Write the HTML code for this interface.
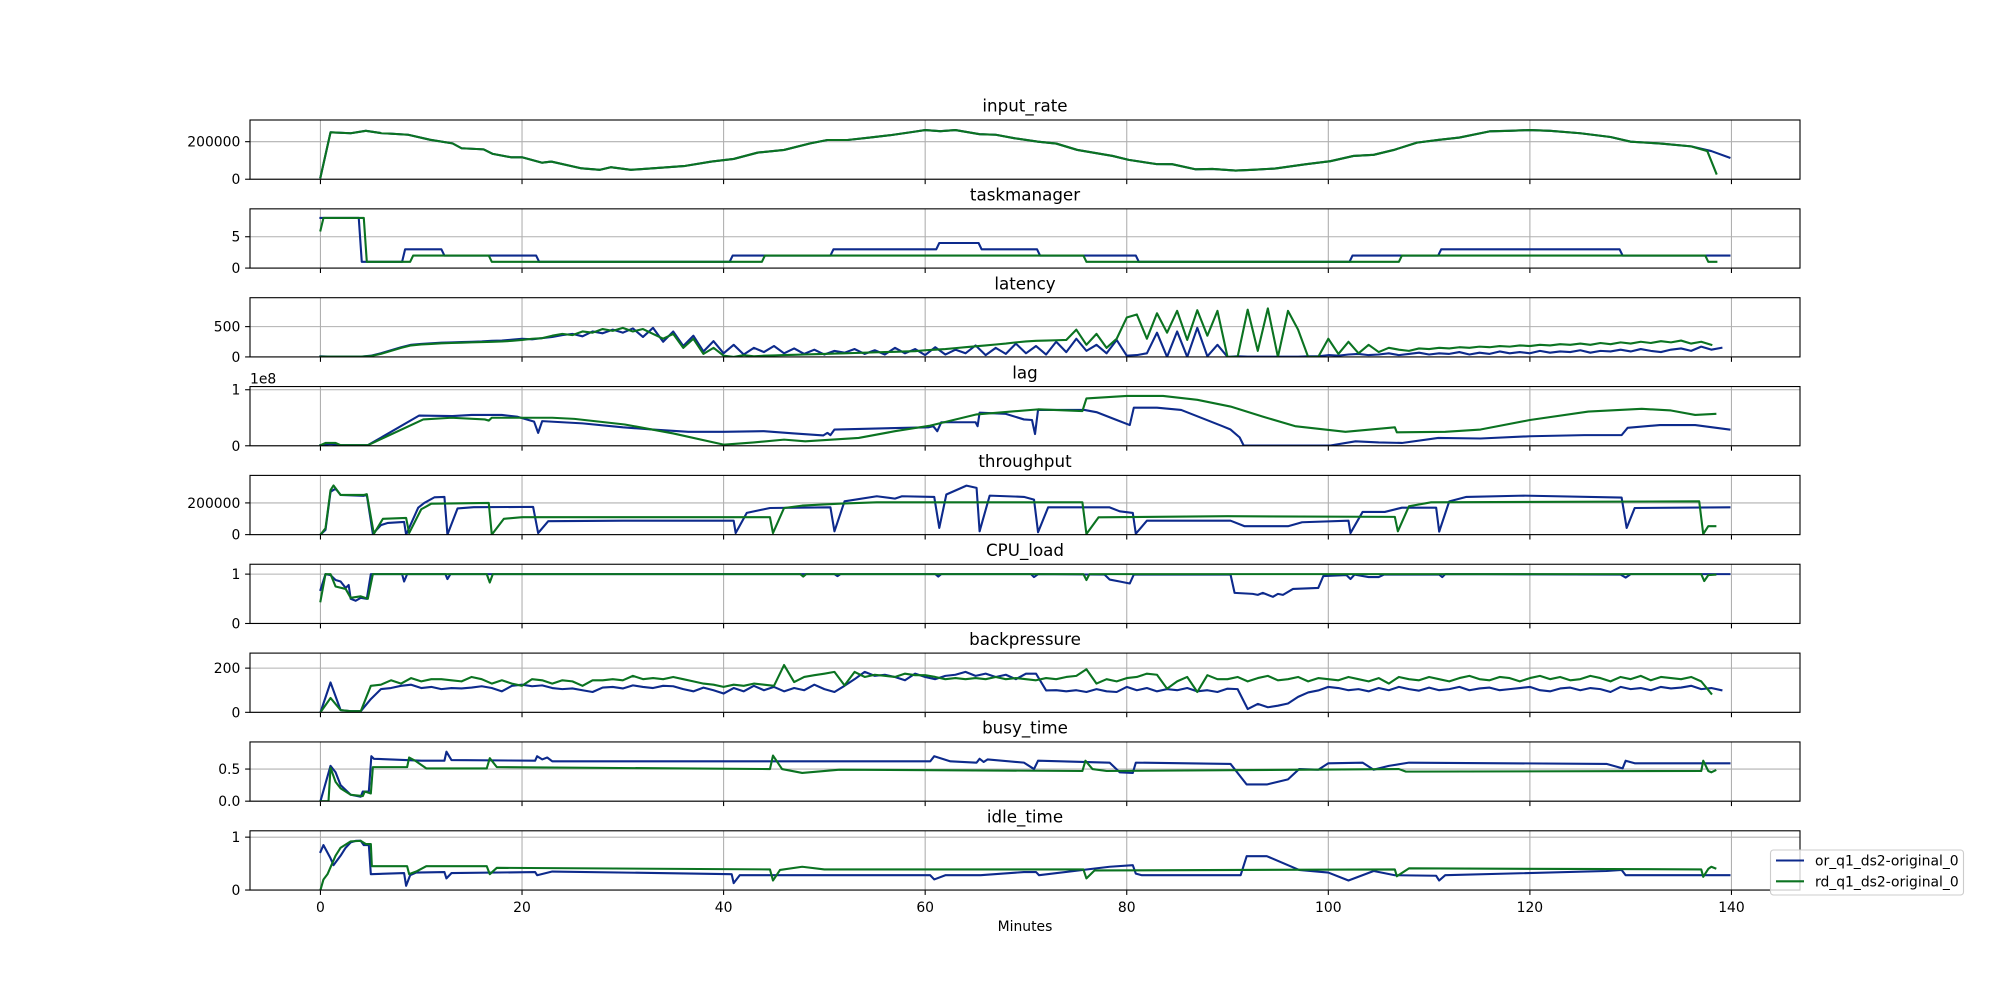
<!DOCTYPE html>
<html><head><meta charset="utf-8"><style>
html,body{margin:0;padding:0;background:#fff;}
svg{display:block;font-family:"DejaVu Sans","Liberation Sans",sans-serif;}
</style></head><body>
<svg id="fig" width="2000" height="1000" viewBox="0 0 2000 1000" xmlns="http://www.w3.org/2000/svg">
<rect x="0" y="0" width="2000" height="1000" fill="#fff"/>
</svg>
<script>
// ---- data ----
const titles=['input_rate','taskmanager','latency','lag','throughput','CPU_load','backpressure','busy_time','idle_time'];
const yTickVals=[[0,200000],[0,5],[0,500],[0,1e8],[0,200000],[0,1],[0,200],[0,0.5],[0,1]];
const yTickLabels=[['0','200000'],['0','5'],['0','500'],['0','1'],['0','200000'],['0','1'],['0','200'],['0.0','0.5'],['0','1']];
const yMaxes=[315500,9.45,977,1.057e8,373500,1.2,268,0.922,1.12];
const xTicks=[0,20,40,60,80,100,120,140];
const xTickLabels=['0','20','40','60','80','100','120','140'];
const units=[1000,1,1,1e7,1000,1,1,1,1];
const seriesNames=['or_q1_ds2-original_0','rd_q1_ds2-original_0'];

const irOr=[[0,10],[1,250],[3,245],[4.5,258],[6,246],[8.7,237],[10.9,210],[13.1,191],[14,165],[16.2,159],[17.1,135],[18.9,117],[20,117],[22,88],[22.9,94],[25.9,58],[27.7,50],[28.8,64],[30.8,50],[34,62],[36.2,71],[38.8,94],[41,108],[43.4,142],[46,156],[48.6,191],[50.3,209],[52.3,209],[54.5,222],[56.6,235],[58.9,253],[60,262],[61.5,256],[63,262],[65.4,240],[67,237],[68.9,218],[71.2,200],[73,190],[75.1,156],[78.6,124],[80.2,103],[82.9,81],[84.5,80],[86.8,53],[88.5,55],[90.8,46],[92.5,50],[94.7,57],[97.8,80],[100.2,96],[102.5,124],[104.5,130],[106.5,156],[108.8,195],[111,210],[113,222],[116,255],[118,258],[120,262],[122,258],[125,245],[128,225],[130,200],[133,190],[136,175],[138,150],[139.8,115]];
const irRd=[[0,10],[1,250],[3,245],[4.5,258],[6,246],[8.7,237],[10.9,210],[13.1,191],[14,165],[16.2,159],[17.1,135],[18.9,117],[20,117],[22,88],[22.9,94],[25.9,58],[27.7,50],[28.8,64],[30.8,50],[34,62],[36.2,71],[38.8,94],[41,108],[43.4,142],[46,156],[48.6,191],[50.3,209],[52.3,209],[54.5,222],[56.6,235],[58.9,253],[60,262],[61.5,256],[63,262],[65.4,240],[67,237],[68.9,218],[71.2,200],[73,190],[75.1,156],[78.6,124],[80.2,103],[82.9,81],[84.5,80],[86.8,53],[88.5,55],[90.8,46],[92.5,50],[94.7,57],[97.8,80],[100.2,96],[102.5,124],[104.5,130],[106.5,156],[108.8,195],[111,210],[113,222],[116,255],[118,258],[120,262],[122,258],[125,245],[128,225],[130,200],[133,190],[136,175],[137.6,150],[138.5,30]];

const tmOr=[[0,8],[3.8,8],[4.1,1],[8.1,1],[8.4,3],[12,3],[12.3,2],[21.4,2],[21.7,1],[40.6,1],[40.9,2],[50.6,2],[50.9,3],[61.1,3],[61.4,4],[65.3,4],[65.6,3],[71.1,3],[71.4,2],[80.9,2],[81.2,1],[102.1,1],[102.4,2],[110.9,2],[111.2,3],[128.9,3],[129.2,2],[139.8,2]];
const tmRd=[[0,6],[0.3,8],[4.3,8],[4.6,1],[8.9,1],[9.2,2],[16.7,2],[17,1],[43.8,1],[44.1,2],[75.7,2],[76,1],[107,1],[107.3,2],[137.4,2],[137.7,1],[138.5,1]];

const latStep=1;
const latOr=[10,5,5,5,5, 20,60,110,160,200, 215,225,235,240,245, 250,255,265,270,285, 300,290,310,330,360, 380,340,420,390,450, 400,470,330,480,250, 420,180,350,90,260, 60,200,40,150,80, 180,60,140,50,120, 40,100,70,130,50, 110,40,150,60,130, 30,160,40,120,60, 190,30,150,50,220, 60,180,40,250,80, 300,100,200,60,280, 20,30,60,400,0, 420,0,480,10,200, 0,10,5,5,5, 5,5,5,10,10, 30,20,40,50,30, 40,60,30,50,70, 40,60,50,80,40, 70,50,90,60,80, 60,100,70,90,80, 110,70,100,90,120, 90,130,100,80,120, 140,100,170,120,150];
const latRd=[5,5,5,5,5, 15,50,100,150,190, 205,215,225,230,235, 240,245,250,255,265, 280,300,310,350,380, 360,420,400,460,430, 480,420,460,380,300, 380,150,300,50,150, 20,0,30,10,20, 25,30,35,40,45, 50,55,60,65,70, 75,80,85,90,95, 110,120,130,145,160, 175,190,205,220,240, 255,265,270,275,280, 450,200,380,150,300, 650,700,300,720,400, 760,280,770,350,760, 0,0,780,100,800, 0,760,450,0,0, 300,50,250,60,200, 80,150,120,100,140, 130,150,140,160,150, 170,160,180,170,190, 180,200,190,210,200, 220,200,230,210,240, 220,250,230,260,240, 270,220,250,200];

const lagOr=[[0,0.1],[1,0.3],[2,0.1],[4.7,0.1],[9.8,5.4],[13.1,5.3],[15,5.5],[18,5.5],[19.5,5.2],[21.2,4.3],[21.6,2.3],[22,4.4],[26,4.0],[30,3.3],[33,2.9],[36.5,2.5],[40,2.5],[44,2.6],[47,2.2],[49.9,1.85],[50.3,2.3],[50.6,1.9],[51,2.9],[60.3,3.3],[60.8,3.5],[61.2,2.6],[61.6,4.2],[65,4.2],[65.2,3.5],[65.4,5.9],[68,5.7],[69.8,4.7],[70.6,4.6],[70.9,2.1],[71.2,6.4],[75.8,6.4],[77,6.0],[79,4.6],[80.3,3.7],[80.7,6.8],[83,6.8],[85.4,6.4],[87.8,4.7],[89.5,3.5],[90.3,2.9],[91.2,1.5],[91.6,0.05],[100.2,0.05],[102.7,0.8],[105,0.6],[107.3,0.5],[110.9,1.4],[115.1,1.3],[120,1.7],[125.4,1.9],[129.1,1.9],[129.7,3.2],[132.9,3.7],[136.4,3.7],[139.8,2.9]];
const lagRd=[[0,0.1],[0.5,0.5],[1.5,0.5],[2,0.1],[4.7,0.1],[10.2,4.7],[13,5.0],[16.3,4.7],[16.7,4.5],[17,5.0],[23,5.0],[25.2,4.8],[30.2,3.8],[35,2.2],[40,0.2],[43,0.6],[46,1.1],[48.1,0.8],[53.4,1.4],[57,2.6],[60.5,3.6],[65.1,5.6],[71.2,6.5],[75.6,6.2],[76,8.45],[80,8.9],[83.6,8.9],[87,8.2],[90.3,7.0],[93.5,5.2],[96.7,3.5],[101.7,2.5],[106.6,3.3],[106.8,2.4],[111.6,2.5],[115.1,2.9],[120,4.6],[125.8,6.1],[131.1,6.6],[134,6.3],[136.4,5.5],[138.4,5.7]];

const tpOr=[[0,0],[0.5,30],[1,270],[1.5,290],[2,250],[4.3,245],[4.6,250],[5.2,5],[6,60],[6.7,74],[8.3,80],[8.5,0],[9.7,170],[10.3,200],[11.3,235],[12.3,238],[12.6,0],[13.6,165],[15.2,173],[21.1,175],[21.6,10],[22.6,85],[30,88],[41,88],[41.2,10],[42.3,137],[44.6,168],[50.6,172],[51,21],[52,210],[55.2,242],[57,227],[57.7,242],[60.9,238],[61.4,42],[62.1,253],[64.1,309],[65.1,295],[65.4,21],[66.4,246],[69.8,238],[70.8,221],[71.2,15],[72.2,172],[78.3,172],[79.3,147],[80.6,137],[80.9,6],[82,88],[90.3,88],[91.7,53],[96,53],[97.4,78],[102,88],[102.2,10],[103.4,143],[105.6,143],[107.3,170],[110.7,170],[111,19],[112,210],[113.7,238],[119.4,246],[129.1,234],[129.6,42],[130.4,168],[139.8,172]];
const tpRd=[[0,0],[0.5,40],[1,280],[1.3,310],[2,250],[4.3,250],[4.6,255],[5.3,5],[6.2,100],[8.5,105],[8.8,10],[10,160],[11,195],[16.7,200],[17,0],[18.2,100],[20,110],[44.6,110],[44.9,10],[46,168],[47.8,183],[51.7,196],[55.2,204],[75.6,204],[76,4],[77.2,109],[90,116],[106.6,112],[106.9,21],[108,179],[110.2,204],[136.8,210],[137.2,4],[137.7,53],[138.4,53]];

const cpuOr=[[0,0.68],[0.5,1.0],[1,0.98],[1.5,0.88],[2,0.85],[2.5,0.72],[2.8,0.78],[3,0.5],[3.5,0.46],[4,0.52],[4.6,0.5],[5,1.0],[8.1,1.0],[8.3,0.85],[8.6,1.0],[12.4,1.0],[12.6,0.9],[12.9,1.0],[51,1.0],[51.3,0.96],[51.6,1.0],[61,1.0],[61.3,0.95],[61.6,1.0],[70.5,1.0],[70.8,0.94],[71.2,1.0],[77.8,0.99],[78.3,0.89],[79.3,0.85],[80.3,0.81],[80.7,0.99],[90.3,0.99],[90.7,0.62],[92.5,0.6],[93,0.58],[93.5,0.62],[94.5,0.54],[95,0.6],[95.5,0.58],[96.5,0.7],[99,0.72],[99.5,0.96],[101.8,0.98],[102.2,0.9],[102.6,0.99],[104,0.94],[105,0.94],[105.5,0.99],[111,0.99],[111.3,0.94],[111.6,1.0],[129,0.99],[129.5,0.93],[130,1.0],[139.8,1.0]];
const cpuRd=[[0,0.45],[0.5,1.0],[1,1.0],[1.5,0.75],[2.5,0.7],[3,0.52],[4,0.55],[4.7,0.5],[5.2,1.0],[16.5,1.0],[16.8,0.83],[17.1,1.0],[47.6,1.0],[47.9,0.95],[48.2,1.0],[75.7,1.0],[76,0.88],[76.3,1.0],[137,1.0],[137.3,0.86],[137.7,0.98],[138.4,0.99]];

const bpStep=1;
const bpOr=[0,135,10,5,5, 60,105,110,120,125, 110,115,105,110,108, 112,118,110,95,120, 125,118,122,110,105, 108,100,92,112,115, 108,122,115,110,120, 118,105,95,112,100, 85,110,95,120,100, 115,95,110,100,125, 105,92,120,150,183, 165,170,160,145,175, 160,150,165,170,183, 165,175,160,170,150, 175,175,99,100,95, 100,92,105,95,92, 115,100,110,95,105, 100,110,95,100,92, 107,105,15,38,23, 30,40,70,90,99, 115,110,100,105,95, 110,100,115,105,98, 112,100,105,115,100, 108,112,100,105,110, 115,100,95,108,112, 100,110,105,92,115, 105,110,100,115,108, 112,120,105,110,100];
const bpRd=[0,65,10,5,5, 120,125,145,130,155, 140,150,150,145,140, 160,150,130,145,130, 120,150,145,130,145, 140,120,145,145,150, 145,165,150,155,150, 160,150,140,130,125, 115,125,120,130,125, 120,214,137,160,168, 175,183,122,183,160, 170,165,160,175,168, 168,160,150,155,150, 155,150,160,150,155, 150,145,155,150,160, 165,195,130,150,140, 155,160,175,170,107, 140,160,92,168,150, 150,160,140,155,165, 145,150,160,140,155, 150,145,160,150,140, 155,130,160,150,145, 160,150,140,155,165, 150,145,160,155,140, 155,165,150,160,145, 150,165,155,140,160, 150,165,145,160,155, 150,160,140,84];

const busyOr=[[0,0],[1,0.55],[1.5,0.45],[2,0.25],[3,0.1],[4,0.07],[4.2,0.15],[4.8,0.15],[5.05,0.7],[5.3,0.66],[10,0.63],[12.3,0.63],[12.5,0.77],[13,0.64],[21.3,0.63],[21.5,0.7],[22,0.65],[22.5,0.68],[23,0.62],[60.5,0.62],[60.9,0.7],[62.5,0.62],[65.1,0.6],[65.4,0.66],[65.8,0.61],[66.2,0.65],[69.8,0.6],[70.8,0.5],[71.2,0.63],[78.3,0.6],[79.3,0.45],[80.6,0.44],[80.9,0.6],[90.3,0.58],[91.9,0.26],[93.9,0.26],[96,0.34],[97.1,0.5],[99,0.49],[100,0.59],[103.4,0.6],[104.5,0.49],[106,0.55],[108,0.6],[127.6,0.58],[129.2,0.51],[129.5,0.63],[130.4,0.59],[139.8,0.59]];
const busyRd=[[0,0],[0.8,0],[1,0.52],[1.5,0.3],[2,0.2],[3,0.1],[4.2,0.08],[4.4,0.15],[5,0.12],[5.2,0.53],[8.6,0.53],[8.8,0.68],[9.5,0.62],[10.5,0.51],[16.5,0.51],[16.8,0.67],[17.5,0.53],[44.6,0.5],[44.9,0.71],[45.8,0.5],[47.8,0.44],[51.5,0.49],[75.6,0.47],[75.9,0.63],[76.6,0.5],[78,0.47],[107,0.5],[107.7,0.46],[137,0.47],[137.2,0.63],[137.7,0.47],[138,0.45],[138.4,0.48]];

const idleOr=[[0,0.72],[0.3,0.85],[1,0.6],[1.3,0.47],[2,0.65],[2.5,0.8],[3,0.9],[3.5,0.93],[4,0.93],[4.3,0.85],[4.8,0.85],[5,0.3],[8.3,0.32],[8.5,0.08],[8.9,0.28],[9.5,0.33],[12.3,0.34],[12.5,0.22],[13,0.32],[21.3,0.34],[21.5,0.28],[23,0.35],[40.8,0.3],[41,0.13],[41.6,0.28],[60.5,0.28],[60.9,0.2],[62,0.28],[65.5,0.28],[69.8,0.34],[71,0.34],[71.3,0.28],[78.3,0.44],[80.6,0.47],[80.9,0.31],[81.5,0.28],[90.3,0.28],[91.3,0.28],[91.9,0.64],[93.9,0.64],[96,0.47],[97.1,0.38],[100,0.33],[102,0.18],[104.5,0.36],[106.6,0.28],[110.7,0.27],[111,0.18],[111.6,0.28],[127.6,0.36],[129.1,0.38],[129.5,0.28],[139.8,0.28]];
const idleRd=[[0,0],[0.3,0.2],[0.7,0.3],[1.5,0.65],[2,0.8],[3,0.92],[4,0.93],[4.5,0.87],[5,0.87],[5.1,0.45],[8.6,0.45],[8.8,0.3],[9.5,0.35],[10.5,0.45],[16.5,0.45],[16.8,0.3],[17.5,0.42],[44.6,0.39],[44.9,0.18],[45.6,0.38],[47.8,0.44],[50,0.39],[75.7,0.39],[76,0.22],[76.8,0.37],[106.6,0.39],[106.8,0.26],[108,0.41],[137,0.39],[137.2,0.25],[137.7,0.4],[138,0.44],[138.4,0.41]];

// ---- drawing ----
const NS='http://www.w3.org/2000/svg';
const svg=document.getElementById('fig');
const AX_L=250, AX_R=1800, AX_TOP=120, AX_H=59.23, AX_PITCH=88.85;
const X_MIN=-6.99, X_MAX=146.8;
const COLORS=['#0d2a8c','#0b7321'];
function xScale(t){return AX_L+(t-X_MIN)/(X_MAX-X_MIN)*(AX_R-AX_L);}
function yScale(k,v){const top=AX_TOP+k*AX_PITCH;return top+AX_H-(v/yMaxes[k])*AX_H;}
function mk(tag,attrs){const e=document.createElementNS(NS,tag);for(const a in attrs)e.setAttribute(a,attrs[a]);return e;}
function fromSteps(vals,step){return vals.map((v,i)=>[i*step,v]);}

const panelData=[
 [irOr,irRd],[tmOr,tmRd],[fromSteps(latOr,latStep),fromSteps(latRd,latStep)],
 [lagOr,lagRd],[tpOr,tpRd],[cpuOr,cpuRd],
 [fromSteps(bpOr,bpStep),fromSteps(bpRd,bpStep)],[busyOr,busyRd],[idleOr,idleRd]
];
const defs=mk('defs',{});svg.appendChild(defs);

for(let k=0;k<titles.length;k++){
  const top=AX_TOP+k*AX_PITCH, bot=top+AX_H;
  const g=mk('g',{});
  
  
  svg.appendChild(g);
  const cp=mk('clipPath',{id:'clip'+k});
  cp.appendChild(mk('rect',{x:AX_L,y:top,width:AX_R-AX_L,height:AX_H}));
  defs.appendChild(cp);
  // grid
  for(const t of xTicks){
    const x=xScale(t);
    const gl=mk('line',{x1:x,x2:x,y1:top,y2:bot,stroke:'#b0b0b0','stroke-width':1.1});
    
    
    g.appendChild(gl);
    const tk=mk('line',{x1:x,x2:x,y1:bot,y2:bot+4.9,stroke:'#000','stroke-width':1.1});
    
    
    g.appendChild(tk);
  }
  yTickVals[k].forEach((v,i)=>{
    const y=yScale(k,v);
    const gl=mk('line',{x1:AX_L,x2:AX_R,y1:y,y2:y,stroke:'#b0b0b0','stroke-width':1.1});
    
    
    g.appendChild(gl);
    const tk=mk('line',{x1:AX_L-4.9,x2:AX_L,y1:y,y2:y,stroke:'#000','stroke-width':1.1});
    
    
    g.appendChild(tk);
    const tx=mk('text',{x:AX_L-9.7,y:y+5,'text-anchor':'end','font-size':'13.9px',fill:'#000'});
    tx.textContent=yTickLabels[k][i];
    
    
    g.appendChild(tx);
  });
  // series
  panelData[k].forEach((pts,si)=>{
    const d=pts.map((p,i)=>(i?'L':'M')+xScale(p[0]).toFixed(2)+','+yScale(k,p[1]*units[k]).toFixed(2)).join('');
    const pl=mk('path',{d:d,fill:'none',stroke:COLORS[si],'stroke-width':2.1,'stroke-linejoin':'round','stroke-linecap':'square','clip-path':'url(#clip'+k+')'});
    
    
    g.appendChild(pl);
  });
  // frame
  const fr=mk('rect',{x:AX_L,y:top,width:AX_R-AX_L,height:AX_H,fill:'none',stroke:'#000','stroke-width':1.1});
  
  
  g.appendChild(fr);
  // title
  const tt=mk('text',{x:(AX_L+AX_R)/2,y:top-8.3,'text-anchor':'middle','font-size':'16.7px',fill:'#000'});
  tt.textContent=titles[k];
  
  
  g.appendChild(tt);
  if(titles[k]==='lag'){
    const off=mk('text',{x:AX_L,y:top-3,'font-size':'13.9px',fill:'#000'});
    off.textContent='1e8';
    
    
    g.appendChild(off);
  }
  if(k===titles.length-1){
    xTicks.forEach((t,i)=>{
      const tx=mk('text',{x:xScale(t),y:bot+22,'text-anchor':'middle','font-size':'13.9px',fill:'#000'});
      tx.textContent=xTickLabels[i];
      
      
      g.appendChild(tx);
    });
    const xl=mk('text',{x:(AX_L+AX_R)/2,y:bot+41,'text-anchor':'middle','font-size':'13.9px',fill:'#000'});
    xl.textContent='Minutes';
    
    
    g.appendChild(xl);
  }
}
// legend
const lg=mk('g',{});


svg.appendChild(lg);
const lb=mk('rect',{x:1770.5,y:850,width:193,height:45,rx:3,fill:'#fff','fill-opacity':0.8,stroke:'#cccccc','stroke-width':1.1});


lg.appendChild(lb);
seriesNames.forEach((n,i)=>{
  const y=860.5+i*20.8;
  const ln=mk('line',{x1:1776,x2:1804,y1:y,y2:y,stroke:COLORS[i],'stroke-width':2.1});
  
  
  lg.appendChild(ln);
  const tx=mk('text',{x:1815,y:y+5,'font-size':'13.9px',fill:'#000'});
  tx.textContent=n;
  
  
  lg.appendChild(tx);
});
</script>
</body></html>
